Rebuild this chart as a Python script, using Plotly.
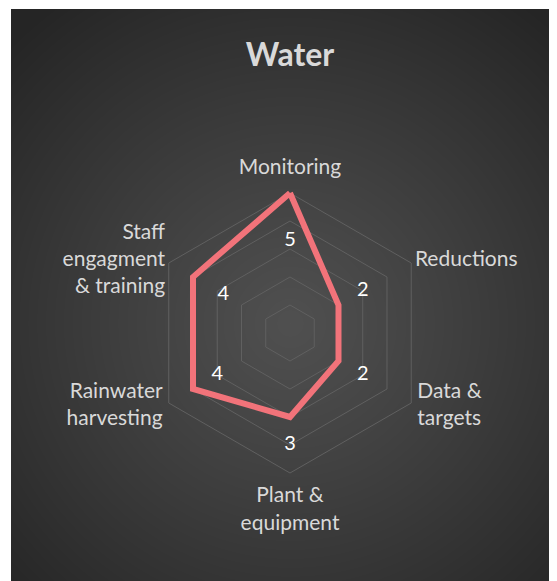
import base64, struct, zlib
import numpy as np
import plotly.graph_objects as go

# ---- data ----
categories = ["Monitoring", "Reductions", "Data & targets", "Plant & equipment",
              "Rainwater harvesting", "Staff engagment & training"]
tick_labels = ["Monitoring", "Reductions", "Data &<br>targets", "Plant &<br>equipment",
               "Rainwater<br>harvesting", "Staff<br>engagment<br>& training"]
values = [5, 2, 2, 3, 4, 4]
grid_levels = [1, 2, 3, 4, 5]
title_text = "Water"

# style: label placement (radial units) and anchoring
label_offsets = [-1.7, 1.0, 1.0, 1.0, -1.0, -1.25]
cat_label_r = [5.85, 5.15, 5.25, 6.35, 5.25, 5.15]
cat_label_pos = ["middle center", "middle right", "middle right", "middle center",
                 "middle left", "middle left"]
r_max_view = 7  # radial view extent so labels outside the grid stay visible

W, H = 557, 581

# ---- radial gradient background as PNG ----
x0, y0 = 3, 1
iw, ih = W - x0, H - y0
yy, xx = np.mgrid[0:ih, 0:iw]
cx, cy = 282 - x0, 315 - y0
d = np.sqrt((xx - cx) ** 2 + (yy - cy) ** 2) / 400.0
d = np.clip(d, 0, 1)
val = (80 - (80 - 37) * d ** 1.1).astype(np.uint8)
rgb = np.stack([val, val, val], axis=-1)
raw = b"".join(b"\x00" + rgb[r].tobytes() for r in range(ih))

def chunk(tag, data):
    c = struct.pack(">I", len(data)) + tag + data
    return c + struct.pack(">I", zlib.crc32(tag + data) & 0xffffffff)

png = b"\x89PNG\r\n\x1a\n" + chunk(b"IHDR", struct.pack(">IIBBBBB", iw, ih, 8, 2, 0, 0, 0)) \
      + chunk(b"IDAT", zlib.compress(raw, 9)) + chunk(b"IEND", b"")
img_uri = "data:image/png;base64," + base64.b64encode(png).decode()

# ---- figure ----
r_closed = values + values[:1]
theta_closed = categories + categories[:1]
label_r = [v + o for v, o in zip(values, label_offsets)]

fig = go.Figure()
fig.add_trace(go.Scatterpolar(
    r=r_closed, theta=theta_closed, mode="lines",
    line=dict(color="#F2737A", width=6, shape="linear"),
    hoverinfo="skip", showlegend=False,
))
fig.add_trace(go.Scatterpolar(
    r=label_r, theta=categories, mode="text",
    text=[str(v) for v in values],
    textfont=dict(family="Lato", size=20, color="#ffffff"),
    textposition="middle center", showlegend=False, hoverinfo="skip",
))
fig.add_trace(go.Scatterpolar(
    r=cat_label_r, theta=categories, mode="text",
    text=tick_labels, textposition=cat_label_pos, cliponaxis=False,
    textfont=dict(family="Lato", size=21, color="#d9d9d9"),
    showlegend=False, hoverinfo="skip",
))

center_x, center_y = 282, 325
radius = 140 * r_max_view / grid_levels[-1]
fig.update_layout(
    width=W, height=H,
    margin=dict(l=0, r=0, t=0, b=0),
    paper_bgcolor="#ffffff",
    title=dict(text="<b>%s</b>" % title_text, x=282 / W, xanchor="center",
               y=1 - 47 / H, yanchor="middle",
               font=dict(family="Lato", size=32, color="#d9d9d9")),
    images=[dict(source=img_uri, xref="paper", yref="paper",
                 x=x0 / W, y=1 - y0 / H, sizex=iw / W, sizey=ih / H,
                 xanchor="left", yanchor="top", sizing="stretch", layer="below")],
    polar=dict(
        domain=dict(x=[(center_x - radius) / W, (center_x + radius) / W],
                    y=[(H - center_y - radius) / H, (H - center_y + radius) / H]),
        bgcolor="rgba(0,0,0,0)",
        gridshape="linear",
        radialaxis=dict(range=[0, r_max_view], tickmode="array", tickvals=grid_levels,
                        showticklabels=False, ticks="",
                        showline=False, gridcolor="#606060", gridwidth=1),
        angularaxis=dict(rotation=90, direction="clockwise", showgrid=False,
                         showline=False, ticks="", showticklabels=False),
    ),
    showlegend=False,
)

fig.write_html("out.html")
